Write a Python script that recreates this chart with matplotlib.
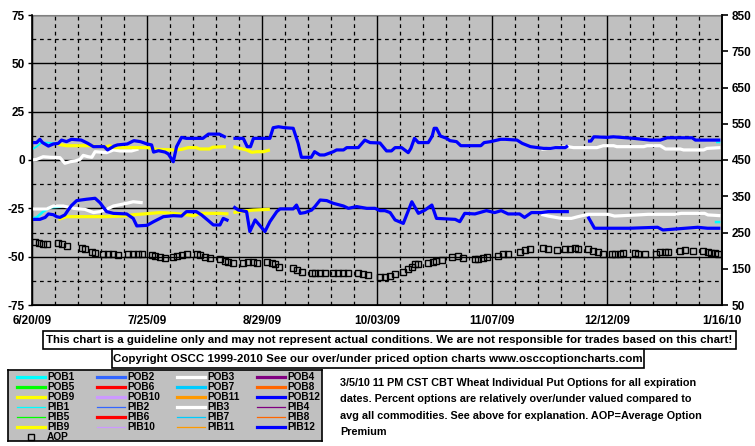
import numpy as np
import matplotlib
matplotlib.use("Agg")
import matplotlib.pyplot as plt
from matplotlib import font_manager
from matplotlib.patches import Rectangle
from matplotlib.lines import Line2D

nan = np.nan

# ---------------- data (x = days since 6/20/09) ----------------
x_tick_days = [0, 35, 70, 105, 140, 175, 210]
x_tick_labels = ["6/20/09", "7/25/09", "8/29/09", "10/03/09", "11/07/09", "12/12/09", "1/16/10"]
left_ticks = [-75, -50, -25, 0, 25, 50, 75]
right_ticks = [50, 150, 250, 350, 450, 550, 650, 750, 850]

pob12_days = [0, 1.4, 2.4, 3.2, 5, 6.5, 8, 9, 10.5, 12,
              15, 17, 18.7, 22, 23, 25, 26, 29, 31, 33,
              35, 36.4, 37, 38.5, 40.5, 41.5, 43, 44, 45.5, 47,
              52, 53.7, 57, 59, 60, 61.3, 64.3, 65.5, 66.5, 67.4,
              72.4, 73.4, 75, 77, 79.5, 81, 82, 85, 86, 87.6,
              89, 91.7, 92.7, 94.8, 95.8, 99.3, 101.3, 102.9, 105.9, 107.9,
              109.4, 110.5, 112.5, 114.5, 115.3, 116.4, 117.6, 120.6, 121.8, 122.4,
              123.1, 124.3, 126.2, 127.2, 129.2, 130.5, 136.6, 137.6, 139.6, 142.6,
              144.1, 147.6, 149.2, 151.7, 155.7, 157.8, 159.3, 162.3, 163.1, 166,
              169.2, 170.1, 171, 175, 177, 183.1, 188.2, 191.2, 193.3, 200.9, 201.9, 209.5]
pob12_vals = [9, 9, 10.7, 9, 7.2, 8.3, 8.6, 10.3, 9.5, 10.7,
              10.3, 8.6, 6.9, 6.9, 5.2, 7.2, 7.8, 8.3, 10, 9.5,
              8.3, 7.8, 4.1, 4.8, 4.1, 3.1, -0.9, 6.9, 11.7, 11.2,
              11.2, 13.4, 13.4, 11.7, nan, 11.2, 11.2, 6.9, 6.9, 11.2,
              11.2, 16.7, 17.2, 16.7, 16.4, 8.6, 1.4, 1.4, 4.3, 2.6,
              2.6, 4.3, 5.2, 5.2, 6.4, 6.4, 10.3, 9, 8.8, 4.7,
              4.7, 6.4, 6.4, 3.8, 6, 11.2, 9, 9, 12.4, 16.4,
              16.4, 12.4, 11.2, 10, 9.5, 7.4, 7.4, 9, 9.5, 10.7,
              10.7, 10.3, 8.6, 6.9, 6, 6, 6.4, 6.4, 7.4, nan,
              9.8, 9.8, 12, 11.7, 12, 11.2, 10.3, 10.3, 11.5, 11.5, 10.3, 10.3]

pib12_days = [0, 2.4, 4, 5, 6.5, 7.5, 8.5, 10, 11, 12,
              13.6, 16.6, 19.2, 20.7, 22.7, 24.8, 28.8, 30.8, 31.9, 35,
              37, 40, 43, 45.5, 47, 50, 51.6, 53.7, 55.2, 57.2,
              58.2, 59.8, 60.5, 61.3, 62.8, 65.3, 66.3, 67.9, 70.9, 72.4,
              74.5, 75.5, 79.5, 80.5, 81.6, 83.1, 85.1, 86.1, 87.7, 89.7,
              91.7, 94.8, 96.3, 98.8, 101.9, 104.4, 105.9, 107.4, 109, 110.5,
              113, 115.6, 117.6, 119.6, 121.7, 123.1, 128.8, 130.2, 131.7, 134.8,
              138.3, 140.8, 142.8, 144.9, 148.4, 149.9, 152, 155, 157.1, 163.4,
              166, 169.2, 171.2, 181.8, 190.4, 192, 202.6, 205.6, 209.5]
pib12_vals = [-30.7, -30.7, -29.7, -27.9, -28.3, -29.3, -29.7, -28.4, -25.9, -23.6,
              -21, -20.3, -19.8, -22.1, -26.7, -27.6, -27.9, -30.2, -34.1, -33.8,
              -31.9, -29.3, -28.8, -29, -26.7, -26.7, -28.4, -31.4, -33.6, -33.6,
              -30.2, -31.4, nan, -24.1, -25.9, -26.7, -37, -31, -37, -31.9,
              -26.7, -25.3, -25.3, -23.3, -27.6, -27.2, -25.9, -24.1, -20.7, -21,
              -22.4, -23.8, -25, -24.1, -25, -25, -26.2, -26.2, -27.2, -31,
              -32.8, -21.6, -27.6, -25.9, -23.3, -30.2, -30.7, -31.9, -27.6, -27.9,
              -26.2, -27.2, -26.2, -27.9, -27.9, -29.7, -27.2, -27.2, -26.7, -26.7,
              nan, -29.3, -35.3, -35.3, -34.8, -36.2, -34.8, -35.3, -35.3]

pob3_days = [0, 1.4, 3.4, 5.5, 8.5, 10, 11.6, 13.1, 14.6, 15.6, 17.1, 18.2, 19.2, 22.7, 24.8, 26.8, 30.3, 32.4,
             100,
             155, 157, 163.1, 164.8, 171.9, 173.9, 177, 178, 186.2, 187.2, 191.2, 192.8, 197.3, 198.3, 204.4, 205.4, 209.5]
pob3_vals = [0, 0.3, 1.7, 1.4, 1.2, -1.7, -0.9, -0.5, 0.3, 2.4, 1.7, 1.4, 4.3, 3.8, 5.2, 4.7, 4.7, 5.7,
             nan,
             5.5, 6, 6.9, 6.4, 6.4, 7.4, 7.4, 6.9, 6.9, 7.4, 7.4, 5.7, 5.7, 5.2, 5.2, 6, 6.4]

pib3_days = [0, 4.5, 6.5, 9.5, 12.6, 16.1, 18.7, 20.7, 22.7, 24.8, 28.8, 30.8, 33.7,
             100,
             155, 157.1, 161.1, 164.2, 166.2, 169.2, 175.3, 177.3, 184.4, 187.5, 195.6, 197.6, 204.7, 205.7, 209.5]
pib3_vals = [-25.3, -25.3, -23.8, -23.8, -25, -25.5, -27.2, -26.7, -25.5, -23.8, -22.4, -21.6, -22.1,
             nan,
             -28.1, -29, -30.2, -30.2, -29.3, -28.1, -28.1, -29, -28.4, -28.1, -28.1, -27.6, -27.6, -28.4, -28.8]

pob9_days = [8, 10.5, 17.7, 19.7, 22.7, 23.7, 25, 30.8, 35, 38, 43.5, 45.5, 47.6, 50, 51, 54, 55, 59,
             60.2, 61.3, 63.3, 65.3, 66.9, 68.4, 70.4, 72.4]
pob9_vals = [8.1, 7.4, 7.4, 6.9, 6.9, 7.4, 6.4, 6.4, 6.4, 5.5, 5.2, 5.5, 6.4, 6.4, 5.7, 5.7, 6.6, 6.9,
             nan, 6.9, 6, 5.2, 4, 4.3, 4.3, 5.2]

pib9_days = [8, 10.5, 18.7, 22.7, 28.8, 30.8, 34, 39, 43, 47, 49.1, 51.1, 57.2, 59.8,
             60.5, 61.3, 64.3, 67.4, 72.4]
pib9_vals = [-30.7, -29.3, -29.3, -29.3, -28.9, -28.3, -27.9, -27.2, -27.6, -28.3, -28.9, -27.6, -27.6, -27.9,
             nan, -27.2, -26.4, -25.9, -25.5]

pob1_days = [0, 1.4, 2.9, 4.5, 7, 8.5, 100, 208.2, 209.5]
pob1_vals = [5.5, 6.9, 9, 9, 8.6, 8.6, nan, 9.1, 9.1]

pib1_days = [0, 1.4, 3.4, 5.5, 9, 100, 207.8, 209.5]
pib1_vals = [-30.2, -29.7, -26.7, -24.5, -24.1, nan, -32.1, -32.1]

aop_days = [0.9, 2.2, 3.4, 4.5, 8.0, 9.0, 10.5, 15.1, 16.1, 18.2, 19.2, 21.7, 23.2, 24.8, 26.3,
            29.3, 30.8, 32.4, 33.4, 36.4, 37.4, 39.0, 40.5, 43.0, 44.0, 45.6, 47.1, 50.1, 51.1,
            52.7, 54.2, 57.2, 58.7, 59.8, 61.3, 64.3, 65.8, 67.4, 68.4, 71.4, 72.9, 73.9, 75.3,
            79.5, 80.6, 82.1, 85.1, 86.1, 87.7, 89.2, 91.7, 93.2, 94.8, 96.3, 99.3, 100.8, 102.4,
            105.9, 107.4, 108.9, 110.5, 113.0, 114.5, 115.5, 116.6, 117.6, 120.6, 122.1, 123.1,
            124.7, 127.7, 129.7, 131.3, 134.8, 135.8, 137.4, 138.4, 141.9, 143.4, 145.0, 148.5,
            150.0, 151.6, 155.6, 157.1, 159.7, 162.2, 163.7, 165.2, 166.3, 169.3, 170.8, 172.4,
            173.9, 176.4, 177.4, 178.9, 180.0, 183.5, 184.5, 186.5, 190.0, 191.0, 192.6, 193.6,
            197.2, 198.7, 201.2, 204.3, 205.8, 206.8, 207.8, 208.8]
aop_vals = [-42.2, -43.1, -43.4, -43.6, -43.1, -43.4, -44.5, -45.7, -46.2, -47.4, -48.3, -48.6, -48.6, -48.6, -49.1,
            -48.6, -48.6, -48.6, -48.6, -49.1, -49.7, -50.3, -50.9, -50.0, -49.7, -49.1, -48.6, -48.6, -49.1,
            -50.0, -50.9, -51.4, -52.1, -52.6, -53.1, -53.1, -52.6, -52.6, -53.1, -52.6, -53.4, -53.8, -55.2,
            -56.0, -56.9, -57.8, -58.6, -58.6, -58.6, -58.6, -58.6, -58.3, -58.6, -58.6, -58.6, -58.9, -59.5,
            -60.3, -60.3, -60.0, -59.0, -57.8, -56.6, -55.2, -53.8, -53.8, -53.1, -52.6, -52.1,
            -51.7, -50.0, -49.7, -50.5, -51.4, -51.4, -50.9, -50.0, -49.7, -48.6, -48.6, -47.4,
            -46.6, -46.0, -45.7, -46.0, -46.6, -46.0, -46.0, -45.7, -46.0, -46.0, -47.1, -47.8,
            -48.6, -48.6, -48.6, -48.6, -47.9, -47.9, -48.6, -48.6, -48.6, -47.8, -47.4, -47.4,
            -46.9, -46.6, -46.9, -46.9, -47.4, -47.9, -48.3, -48.6]

legend_names = ["POB1", "POB2", "POB3", "POB4", "POB5", "POB6", "POB7", "POB8", "POB9", "POB10", "POB11", "POB12",
                "PIB1", "PIB2", "PIB3", "PIB4", "PIB5", "PIB6", "PIB7", "PIB8", "PIB9", "PIB10", "PIB11", "PIB12"]
month_colors = ["#00FFFF", "#3366FF", "#FFFFFF", "#800080", "#00FF00", "#FF0000",
                "#00CCFF", "#FF6600", "#FFFF00", "#CC99FF", "#FF9900", "#0000FF"]

disclaimer = "This chart is a guideline only and may not represent actual conditions. We are not responsible for trades based on this chart!"
copyright_txt = "Copyright OSCC 1999-2010 See our over/under priced option charts www.osccoptioncharts.com"
desc_lines = ["3/5/10 11 PM CST CBT Wheat Individual Put Options for all expiration",
              "dates. Percent options are relatively over/under valued compared to",
              "avg all commodities. See above for explanation. AOP=Average Option",
              "Premium"]

# ---------------- fonts ----------------
names = {f.name for f in font_manager.fontManager.ttflist}
base_font = "Liberation Sans" if "Liberation Sans" in names else "DejaVu Sans"
narrow_font = "Liberation Sans Narrow" if "Liberation Sans Narrow" in names else base_font
plt.rcParams['font.family'] = [base_font, 'DejaVu Sans']

W, H = 755, 446
fig = plt.figure(figsize=(W / 100, H / 100), dpi=100)
fig.patch.set_facecolor("white")

def fx(px):
    return px / W

def fy(py):
    return 1 - py / H

# ---------------- main axes ----------------
L, T, R, B = 32, 15, 722, 305
ax = fig.add_axes([fx(L), fy(B), (R - L) / W, (B - T) / H])
ax.set_facecolor("#C0C0C0")
ax.set_xlim(0, 210)
ax.set_ylim(-75, 75)
ax.set_yticks(left_ticks)
ax.set_yticklabels([str(t) for t in left_ticks])
ax.set_yticks(np.arange(-62.5, 75, 25), minor=True)
ax.set_xticks(x_tick_days)
ax.set_xticklabels(x_tick_labels)
ax.set_xticks(np.arange(0, 211, 7), minor=True)
ax.grid(which="major", color="black", lw=1.0, ls="-")
ax.grid(which="minor", color="black", lw=0.9, ls=(0, (3, 3)))
ax.set_axisbelow(True)
ax.tick_params(axis="y", which="major", direction="out", length=3, width=1, pad=2,
               labelsize=8.5)
ax.tick_params(axis="x", which="major", length=0, pad=7, labelsize=8.5)
ax.tick_params(which="minor", length=0)
for lab in ax.get_xticklabels() + ax.get_yticklabels():
    lab.set_fontweight("bold")
ax.spines["top"].set_color("#808080")
for s in ["left", "bottom", "right"]:
    ax.spines[s].set_color("black")
    ax.spines[s].set_linewidth(1.2)

ax2 = ax.twinx()
ax2.set_ylim(50, 850)
ax2.set_yticks(right_ticks)
ax2.set_yticklabels([str(t) for t in right_ticks])
ax2.tick_params(axis="y", direction="out", length=4, width=1.2, pad=3, labelsize=8.5)
for lab in ax2.get_yticklabels():
    lab.set_fontweight("bold")
ax2.spines["top"].set_visible(False)
ax2.spines["right"].set_linewidth(1.2)

thick, thin = 2.3, 0.9
kw = dict(solid_joinstyle="round", solid_capstyle="butt")
ax.plot(pob1_days, pob1_vals, color=month_colors[0], lw=1.3, **kw)
ax.plot(pib1_days, pib1_vals, color=month_colors[0], lw=1.8, **kw)
ax.plot(pob3_days, pob3_vals, color=month_colors[2], lw=thick, **kw)
ax.plot(pib3_days, pib3_vals, color=month_colors[2], lw=thick, **kw)
ax.plot(pob9_days, pob9_vals, color=month_colors[8], lw=thick, **kw)
ax.plot(pib9_days, pib9_vals, color=month_colors[8], lw=thick, **kw)
ax.plot(pob12_days, pob12_vals, color=month_colors[11], lw=thick, **kw)
ax.plot(pib12_days, pib12_vals, color=month_colors[11], lw=thick, **kw)
ax.plot(aop_days, aop_vals, ls="none", marker="s", ms=5, mfc="none", mec="black", mew=1.0)

# ---------------- helpers ----------------
renderer = fig.canvas.get_renderer()

def fit_text(x, y, s, target_w, family, ha="left", va="center", size=8):
    t = fig.text(x, y, s, ha=ha, va=va, fontsize=size, fontweight="bold", family=family)
    w = t.get_window_extent(renderer=renderer).width
    if w > 0:
        t.set_fontsize(size * target_w / w)
    return t

def box(x0, y0, x1, y1):
    fig.add_artist(Rectangle((fx(x0), fy(y1)), (x1 - x0) / W, (y1 - y0) / H,
                             transform=fig.transFigure, facecolor="white",
                             edgecolor="black", lw=1.2))

# disclaimer boxes
box(43, 331, 736, 349)
fit_text(fx(389.5), fy(340), disclaimer, 685, narrow_font, ha="center")
box(112, 349, 644, 368)
fit_text(fx(378), fy(358.5), copyright_txt, 525, narrow_font, ha="center")

# description
t0 = fit_text(fx(340), fy(383), desc_lines[0], 358, base_font)
size_desc = t0.get_fontsize()
for i, line in enumerate(desc_lines[1:], start=1):
    fig.text(fx(340), fy(383 + 16.3 * i), line, ha="left", va="center",
             fontsize=size_desc, fontweight="bold", family=base_font)

# ---------------- legend ----------------
LX0, LY0, LX1, LY1 = 8, 370, 322, 441
lax = fig.add_axes([fx(LX0), fy(LY1), (LX1 - LX0) / W, (LY1 - LY0) / H])
lax.set_facecolor("#C0C0C0")
lax.set_xlim(0, LX1 - LX0)
lax.set_ylim(LY1 - LY0, 0)
lax.set_xticks([])
lax.set_yticks([])
for s in lax.spines.values():
    s.set_color("black")
    s.set_linewidth(1.2)

thick_pib = {"PIB3", "PIB6", "PIB9", "PIB12"}
ref = None
for i, name in enumerate(legend_names):
    row, col = divmod(i, 4)
    yy = 6.5 + 10 * row
    xx = 9 + 80 * col
    lw = thick if (name.startswith("POB") or name in thick_pib) else thin
    lax.add_line(Line2D([xx, xx + 28], [yy, yy], color=month_colors[i % 12], lw=lw))
    t = lax.text(xx + 30, yy + 0.5, name, ha="left", va="center", fontsize=7.5,
                 fontweight="bold", family=narrow_font)
    if name == "POB12":
        ref = t
w = ref.get_window_extent(renderer=renderer).width
leg_size = 7.5 * 33 / w
for t in lax.texts:
    t.set_fontsize(leg_size)
yy = 6.5 + 10 * 6
lax.plot([23], [yy], ls="none", marker="s", ms=5, mfc="none", mec="black", mew=1.0)
lax.text(39, yy + 0.5, "AOP", ha="left", va="center", fontsize=leg_size,
         fontweight="bold", family=narrow_font)

fig.savefig("out.png", dpi=100, facecolor="white")
